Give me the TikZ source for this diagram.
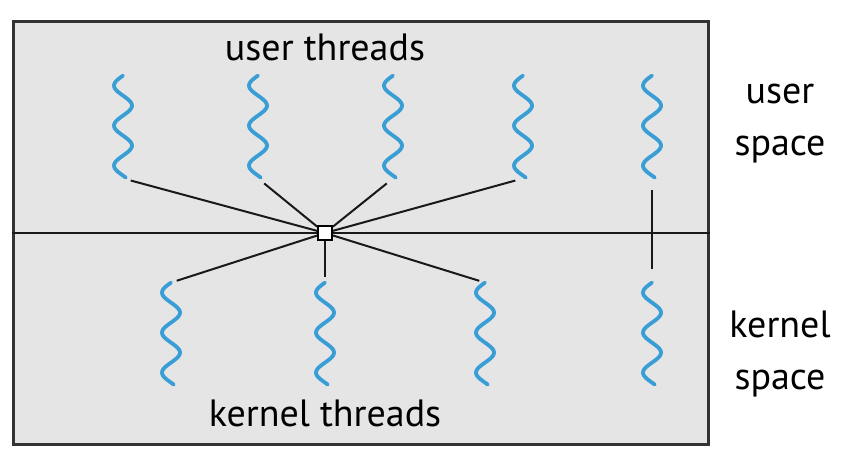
\documentclass[tikz,border=0pt]{standalone}
\usepackage{fontspec}
\setmainfont{PT Sans}
\usepackage{tikz}
\usetikzlibrary{positioning}
\usepackage{xcolor}
\definecolor{threadblue}{RGB}{58,158,214}

\begin{document}
\begin{tikzpicture}[
    x=0.5pt, y=-0.5pt,
    font=\fontsize{19}{26}\selectfont,
    frame/.style={draw=black!80, line width=1.3pt, fill=black!10,
                  minimum width=347.5pt, minimum height=211.5pt, inner sep=0pt},
    thread/.style={minimum width=10pt, minimum height=51pt, inner sep=0pt},
    wave/.style={draw=threadblue, line width=1.9pt, line cap=round},
    hub/.style={draw, fill=white, minimum size=7pt, inner sep=0pt, line width=0.9pt},
    link/.style={draw=black!90, line width=1pt}
]
\useasboundingbox (0,0) rectangle (850,468);

% --- Frame and border between spaces ---
\node[frame, anchor=north west] (box) at (12,20) {};
\node[hub] (hub) at (325,233) {};
\draw[link] (box.west |- hub) -- (hub) -- (box.east |- hub);

% --- User threads ---
\foreach \p [count=\i] in {123,258,393,523,652}
    \node[thread] (u\i) at (\p,127) {};

% --- Kernel threads ---
\foreach \p [count=\i] in {171,325,485,652}
    \node[thread] (k\i) at (\p,334) {};

\foreach \n in {u1,u2,u3,u4,u5,k1,k2,k3,k4}
    \draw[wave, shift={(\n.north)}]
        plot[domain=0:102, samples=70, smooth] ({-9*sin(\x*9)}, \x);

% --- Many-to-many mapping ---
\foreach \n in {u1,u2,u3,u4}
    \draw[link, shorten <=4pt] (\n.south) -- (hub);
\foreach \n in {k1,k2,k3}
    \draw[link, shorten >=3pt] (hub) -- (\n.north);
\draw[link, shorten <=6pt, shorten >=7pt] (u5.south) -- (k4.north);

% --- Labels ---
\node (utitle) at (325,47) {user threads};
\node (ktitle) at (325,413) {kernel threads};
\node[align=center] (uspace) at (780,124) {user\\space};
\node[align=center] (kspace) at (780,354) {kernel\\space};

\end{tikzpicture}
\end{document}
